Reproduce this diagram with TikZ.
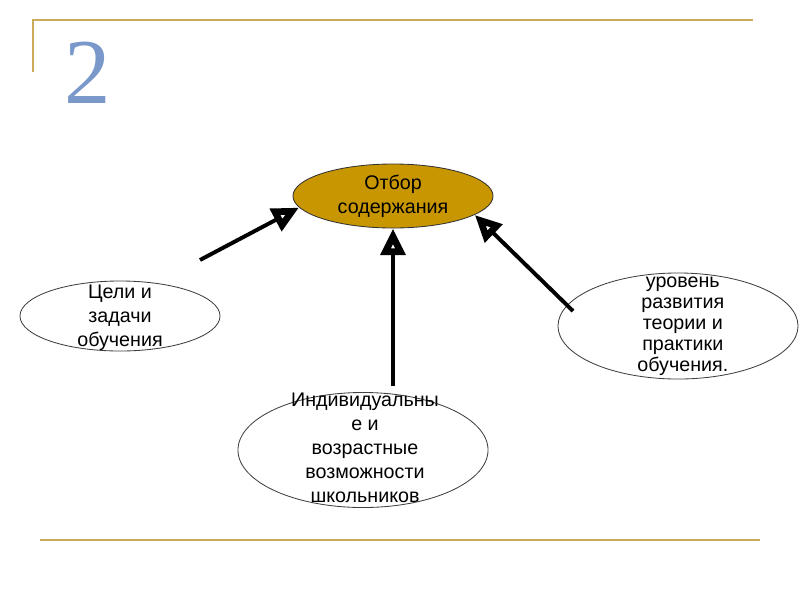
\documentclass[tikz,border=0pt]{standalone}
\usepackage{fontspec}
\setmainfont{Liberation Sans}
\newfontfamily\digitfont{Liberation Serif}
\usetikzlibrary{arrows.meta,shapes.geometric}
\definecolor{rulegold}{RGB}{204,170,92}
\definecolor{coregold}{RGB}{200,150,0}
\definecolor{numblue}{RGB}{122,152,202}
\tikzset{
  core/.style={ellipse,draw=black!80,line width=0.6pt,fill=coregold,inner sep=0pt},
  bubble/.style={ellipse,draw=black!75,line width=0.6pt,fill=white,inner sep=0pt},
  caption/.style={align=center,font=\fontsize{14}{17}\selectfont,inner sep=0pt},
  tightcaption/.style={align=center,font=\fontsize{14}{15}\selectfont,inner sep=0pt},
  push/.style={-{Triangle[open,length=19pt,width=17pt,line width=5pt]},line width=2.8pt},
  rim/.style={rulegold,line width=1.4pt}
}

\begin{document}
\begin{tikzpicture}[x=0.025cm,y=-0.025cm]
  \useasboundingbox (0,0) rectangle (800,600);

  % frame lines
  \coordinate (tl) at (33,20);
  \coordinate (tr) at (753,20);
  \coordinate (td) at (33,72);
  \coordinate (bl) at (40,540);
  \coordinate (br) at (760,540);
  \draw[rim] (td) -- (tl) -- (tr);
  \draw[rim] (bl) -- (br);

  \node[font=\digitfont\fontsize{66}{66}\selectfont,text=numblue] (num) at (88,73) {2};

  % ellipses
  \node[core,minimum width=5cm,minimum height=1.6cm,
        label={[caption]center:Отбор\\содержания}] (sel) at (393,196) {};
  \node[bubble,minimum width=5cm,minimum height=1.75cm,
        label={[caption,yshift=-0.05cm]center:Цели и\\задачи\\обучения}] (goals) at (120,316) {};
  \node[bubble,minimum width=6cm,minimum height=2.65cm,
        label={[tightcaption,xshift=0.12cm]center:уровень\\развития\\теории и\\практики\\обучения.}] (level) at (678,326) {};
  \node[bubble,minimum width=6.25cm,minimum height=2.875cm,
        label={[caption,xshift=0.05cm,yshift=0.05cm]center:Индивидуальны\\е и\\возрастные\\возможности\\школьников}] (pupils) at (363,450) {};

  % arrows
  \coordinate (gstart) at (200,260);
  \coordinate (pstart) at (393,386);
  \coordinate (lstart) at (573,311);
  \draw[push] (gstart) -- (sel.187);
  \draw[push] (pstart) -- (sel.south);
  \draw[push] (lstart) -- (sel.347);
\end{tikzpicture}
\end{document}
